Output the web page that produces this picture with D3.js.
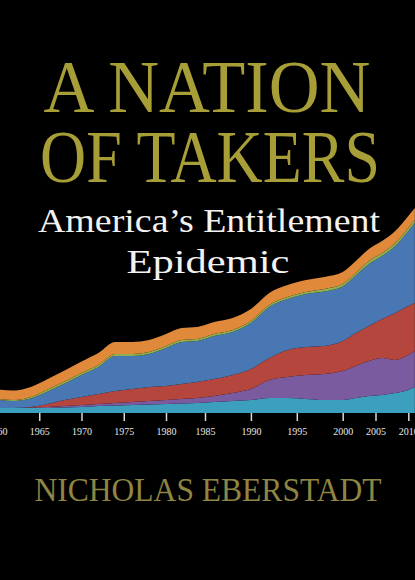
<!DOCTYPE html>
<html>
<head>
<meta charset="utf-8">
<script src="https://cdn.jsdelivr.net/npm/d3@7"></script>
<style>
  html, body { margin: 0; padding: 0; background: #000; }
  svg { display: block; }
</style>
</head>
<body>
<div id="svg-container"></div>
<script>
const Width = 415;
const Height = 580;

// data (index units, stacked bottom to top)
const years = [1960, 1962, 1964, 1966, 1968, 1970, 1972, 1974, 1976, 1978, 1980, 1982, 1984,
               1986, 1988, 1990, 1992, 1994, 1996, 1998, 2000, 2002, 2004, 2006, 2008, 2010, 2011];
const layer1 = [5, 5, 5, 5, 5.5, 6, 7, 7.5, 8, 8.5, 9, 9.5, 10, 11, 12, 13, 15, 15, 14, 13, 13, 15, 17, 18, 20, 23, 26];
const layer2 = [0, 0, 0.5, 1, 1.5, 2, 2, 2.5, 3, 3.5, 4, 4.5, 5, 6, 8, 11, 18, 21, 24, 26, 29, 32, 35, 37, 33, 35, 36];
const layer3 = [0, 0, 0.5, 3, 6, 8, 10, 12, 13, 14, 14, 15, 16, 17, 18, 20, 22, 27, 28, 28, 30, 33, 35, 39, 47, 49, 48];
const layer4 = [8.5, 7, 8.5, 12.5, 16.5, 22, 27, 35, 33, 33, 38, 42, 41, 43, 43, 46, 51, 51, 53, 54.5, 54.5, 57.5, 62, 63, 67, 75, 80];
const layer5 = [0.5, 1, 1.5, 2, 2, 2, 2, 2, 2, 2, 2, 2, 2, 2, 2, 2, 2, 2, 2, 2.5, 2.5, 2.5, 3, 3, 3, 3, 3];
const layer6 = [9.5, 9.5, 10, 10.5, 11, 11.5, 12, 12, 12, 12, 12, 12, 12, 12, 12, 12, 12, 12, 12, 12, 12, 12, 12, 12, 12, 12, 12];
const tickYears = [1960, 1965, 1970, 1975, 1980, 1985, 1990, 1995, 2000, 2005, 2010];

const keys = ["layer1", "layer2", "layer3", "layer4", "layer5", "layer6"];
const colors = ["#3b9fbd", "#7a5b9f", "#b4463e", "#4877b3", "#8db04e", "#e0893b"];

const table = years.map((y, i) => ({
    year: y,
    layer1: layer1[i], layer2: layer2[i], layer3: layer3[i],
    layer4: layer4[i], layer5: layer5[i], layer6: layer6[i]
}));

const svg = d3.select("#svg-container").append("svg").attr("width", Width).attr("height", Height);

svg.append("rect").attr("width", Width).attr("height", Height).attr("fill", "#000");

// the cover's year axis is not evenly spaced
const x = d3.scaleLinear()
    .domain([1960, 1980, 1985, 2000, 2010])
    .range([-3, 166, 205, 342.7, 408.3]);

const y = d3.scaleLinear()
    .domain([0, 210])
    .range([413, 203]);

const series = d3.stack().keys(keys)(table);

const area = d3.area()
    .x(d => x(d.data.year))
    .y0(d => y(d[0]))
    .y1(d => y(d[1]))
    .curve(d3.curveMonotoneX);

svg.append("g")
    .selectAll("path")
    .data(series)
    .join("path")
    .attr("d", area)
    .attr("fill", (d, i) => colors[i]);

// axis
const axis = svg.append("g")
    .attr("transform", `translate(0, 413)`)
    .call(d3.axisBottom(x).tickValues(tickYears).tickFormat(d3.format("d")).tickSize(8).tickPadding(7));

axis.select(".domain").remove();
axis.selectAll(".tick line").attr("stroke", "#d8d8d8").attr("stroke-width", 1.5);
axis.selectAll(".tick text")
    .attr("fill", "#e6e6e6")
    .style("font-family", "'Liberation Serif', serif")
    .style("font-size", "10px");

//title
svg.append("text")
    .attr("x", 207).attr("y", 112)
    .attr("text-anchor", "middle")
    .attr("textLength", 327).attr("lengthAdjust", "spacingAndGlyphs")
    .style("font-family", "'Liberation Serif', serif")
    .style("font-size", "74px")
    .attr("fill", "#a89e38")
    .text("A NATION");

svg.append("text")
    .attr("x", 210).attr("y", 182)
    .attr("text-anchor", "middle")
    .attr("textLength", 340).attr("lengthAdjust", "spacingAndGlyphs")
    .style("font-family", "'Liberation Serif', serif")
    .style("font-size", "74px")
    .attr("fill", "#a89e38")
    .text("OF TAKERS");

// subtitle
svg.append("text")
    .attr("x", 209).attr("y", 232)
    .attr("text-anchor", "middle")
    .attr("textLength", 342).attr("lengthAdjust", "spacingAndGlyphs")
    .style("font-family", "'Liberation Serif', serif")
    .style("font-size", "34px")
    .attr("fill", "#f2f2f2")
    .text("America\u2019s Entitlement");

svg.append("text")
    .attr("x", 208).attr("y", 273)
    .attr("text-anchor", "middle")
    .attr("textLength", 163).attr("lengthAdjust", "spacingAndGlyphs")
    .style("font-family", "'Liberation Serif', serif")
    .style("font-size", "34px")
    .attr("fill", "#f2f2f2")
    .text("Epidemic");

// author
svg.append("text")
    .attr("x", 208).attr("y", 501)
    .attr("text-anchor", "middle")
    .attr("textLength", 347).attr("lengthAdjust", "spacingAndGlyphs")
    .style("font-family", "'Liberation Serif', serif")
    .style("font-size", "34px")
    .attr("fill", "#8e8543")
    .text("NICHOLAS EBERSTADT");
</script>
</body>
</html>
